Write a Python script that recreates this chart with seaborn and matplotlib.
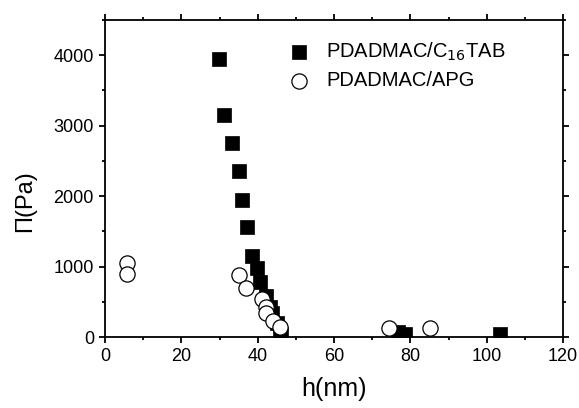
import numpy as np
import pandas as pd
import matplotlib
matplotlib.use("Agg")
import matplotlib.pyplot as plt
from matplotlib.ticker import MultipleLocator
import seaborn as sns

# PDADMAC/C16TAB (filled squares)
h_ctab = [29.8, 31.3, 33.4, 35.1, 35.8, 37.1, 38.5, 39.9, 40.6, 42.1, 43.3, 43.8, 45.0, 45.8, 46.2, 76.8, 78.6, 103.4]
p_ctab = [3950, 3150, 2750, 2350, 1950, 1555, 1155, 975, 780, 580, 420, 340, 200, 80, 40, 75, 40, 40]

# PDADMAC/APG (open circles)
h_apg = [5.7, 5.7, 35.2, 37.0, 41.2, 42.3, 42.1, 44.1, 45.8, 74.5, 85.1]
p_apg = [1045, 890, 880, 695, 535, 432, 345, 232, 140, 125, 125]

label_ctab = "PDADMAC/C$_{16}$TAB"
label_apg = "PDADMAC/APG"

df_ctab = pd.DataFrame({"h": h_ctab, "P": p_ctab})
df_apg = pd.DataFrame({"h": h_apg, "P": p_apg})

sns.set_style("ticks")
plt.rcParams['font.family'] = ['Liberation Sans', 'DejaVu Sans']
plt.rcParams['text.color'] = 'black'
plt.rcParams['axes.labelcolor'] = 'black'
plt.rcParams['xtick.color'] = 'black'
plt.rcParams['ytick.color'] = 'black'

fig = plt.figure(figsize=(5.79, 4.08), dpi=100)
ax = fig.add_axes([105/579, 1-337/408, (563-105)/579, (337-20)/408])

sns.scatterplot(data=df_ctab, x="h", y="P", ax=ax, marker="s", s=95,
                color="black", edgecolor="black", linewidth=0.5, label=label_ctab, zorder=3)
sns.scatterplot(data=df_apg, x="h", y="P", ax=ax, marker="o", s=120,
                facecolor="white", edgecolor="black", linewidth=0.9, label=label_apg, zorder=4)

ax.set_xlim(0, 120)
ax.set_ylim(0, 4500)
ax.xaxis.set_major_locator(MultipleLocator(20))
ax.xaxis.set_minor_locator(MultipleLocator(10))
ax.yaxis.set_major_locator(MultipleLocator(1000))
ax.yaxis.set_minor_locator(MultipleLocator(500))
ax.tick_params(which="both", direction="out", top=True, right=True,
               labeltop=False, labelright=False, colors="black", width=1.3)
ax.tick_params(which="major", length=4.5, labelsize=13, pad=3.5)
ax.tick_params(which="minor", length=2.5)
for sp in ax.spines.values():
    sp.set_visible(True)
    sp.set_linewidth(1.3)
    sp.set_color("black")

ax.set_xlabel("h(nm)", fontsize=18)
ax.set_ylabel("Π(Pa)", fontsize=17)
ax.xaxis.set_label_coords(0.5, -0.125)
ax.yaxis.set_label_coords(-0.15, 0.43)

leg = ax.legend(loc="upper left", bbox_to_anchor=(0.39, 0.935), frameon=False,
                fontsize=14.5, handlelength=1.5, handletextpad=0.6,
                labelspacing=0.4, borderaxespad=0, borderpad=0)

fig.savefig("out.png", dpi=100)
